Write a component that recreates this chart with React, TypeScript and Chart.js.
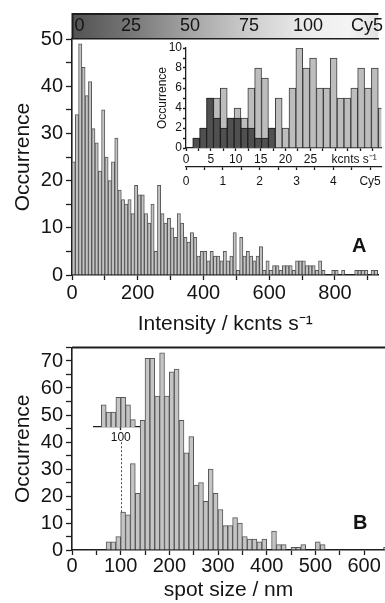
import React, { useEffect, useRef } from 'react';
import { Chart, registerables } from 'chart.js';

Chart.register(...registerables);

const FONT = "'Liberation Sans', Arial, Helvetica, sans-serif";
const INK = '#141414';
const AXIS = '#1e1e1e';
const BAR_FILL = '#c4c4c4';
const BAR_EDGE = '#565656';

// ---------- Panel A: intensity histogram (bins of 10 kcnts/s starting at 0) ----------
const A_BIN_WIDTH = 10;
const A_COUNTS = [
  24, 34, 49, 44, 38, 41, 31, 28, 22, 35,
  25, 20, 24, 29, 18, 16, 15, 16, 13, 19,
  17, 17, 13, 11, 15, 5, 19, 13, 11, 12,
  10, 8, 13, 11, 8, 7, 9, 8, 4, 5,
  5, 3, 5, 4, 4, 3, 5, 3, 4, 9,
  1, 8, 4, 5, 4, 3, 4, 6, 1, 3,
  1, 2, 2, 1, 2, 2, 2, 1, 3, 3,
  3, 2, 2, 2, 1, 3, 1, 0, 0, 1,
  1, 0, 1, 0, 0, 0, 1, 1, 1, 1,
  0, 1, 1,
];
const A_X_MAX = 932;
const A_X_TICKS = [0, 100, 200, 300, 400, 500, 600, 700, 800, 900];
const A_X_LABELS = ['0', '', '200', '', '400', '', '600', '', '800', ''];
const A_Y_MAX = 50;
const A_Y_TICKS = [0, 5, 10, 15, 20, 25, 30, 35, 40, 45, 50];
const A_Y_LABELS = ['0', '', '10', '', '20', '', '30', '', '40', '', '50'];
const A_X_TITLE = 'Intensity / kcnts s\u207B\u00B9';
const Y_TITLE = 'Occurrence';

// colour bar on top of panel A: number of Cy5 molecules
const KCNTS_PER_CY5_MAIN = 7.18;
const A_CY5_TICKS = [0, 25, 50, 75, 100, 125];
const A_CY5_LABELS = ['   0', '25', '50', '75', '100', 'Cy5'];
const BAR_GRADIENT: [number, string][] = [
  [0, '#525252'], [0.19, '#767676'], [0.38, '#a3a3a3'], [0.58, '#cdcdcd'],
  [0.77, '#ececec'], [0.9, '#f4f4f4'], [1, '#e2e2e2'],
];

// inset of panel A
const INSET_BIN_WIDTH = 1.38; // kcnts/s
const INSET_FIRST_BIN = 1;
const INSET_ALL = [1, 2, 5, 5, 6, 3, 4, 3, 6, 8, 7, 2, 5, 2, 6, 10, 8, 9, 6, 6, 9, 5, 5, 6, 8, 6, 8, 4];
const INSET_DARK = [1, 2, 5, 3, 2, 3, 3, 2, 2, 1, 1, 2];
const INSET_X_MAX = 39.25;
const INSET_X_TICKS = [0, 2.5, 5, 7.5, 10, 12.5, 15, 17.5, 20, 22.5, 25, 27.5, 30, 32.5, 35, 37.5];
const INSET_X_LABELS = ['0', '', '5', '', '10', '', '15', '', '20', '', '25', '', '', '', '', ''];
const INSET_UNIT_LABEL = 'kcnts s\u207B\u00B9';
const INSET_UNIT_LABEL_AT = 33.8;
const KCNTS_PER_CY5_INSET = 7.4;
const INSET_CY5_TICKS = [0, 0.5, 1, 1.5, 2, 2.5, 3, 3.5, 4, 4.5, 5];
const INSET_CY5_LABELS = ['0', '', '1', '', '2', '', '3', '', '4', '', 'Cy5'];
const INSET_Y_TICKS = [0, 1, 2, 3, 4, 5, 6, 7, 8, 9, 10];
const INSET_Y_LABELS = ['0', '', '2', '', '4', '', '6', '', '8', '', '10'];

// ---------- Panel B: spot size histogram (bins of 10 nm starting at 70) ----------
const B_BIN_START = 70;
const B_BIN_WIDTH = 10;
const B_COUNTS = [
  3, 3, 5, 14, 13, 32, 21, 48, 71, 71,
  57, 73, 57, 66, 67, 48, 36, 42, 24, 25,
  18, 30, 21, 15, 9, 9, 12, 10, 5, 4,
  4, 3, 4, 0, 7, 2, 2, 0, 1, 1,
  2, 0, 0, 3, 2, 0, 0, 0, 0, 0,
  0, 0, 0, 0, 0, 0, 0, 1,
];
const B_X_MAX = 643;
const B_X_TICKS = [0, 50, 100, 150, 200, 250, 300, 350, 400, 450, 500, 550, 600];
const B_X_LABELS = ['0', '', '100', '', '200', '', '300', '', '400', '', '500', '', '600'];
const B_Y_MAX = 75;
const B_Y_TICKS = [0, 5, 10, 15, 20, 25, 30, 35, 40, 45, 50, 55, 60, 65, 70, 75];
const B_Y_LABELS = ['0', '', '10', '', '20', '', '30', '', '40', '', '50', '', '60', '', '70', ''];
const B_X_TITLE = 'spot size / nm';

// small inset of panel B
const BI_BIN_START = 60;
const BI_BIN_WIDTH = 10;
const BI_COUNTS = [3, 2, 2, 4, 4, 3, 1];
const BI_X_MIN = 45;
const BI_X_MAX = 137.5;
const BI_Y_MAX = 5;
const BI_TICKS = [100];
const BI_LABELS = ['100'];
const B_LINK_X = 100;
const B_LINK_FROM = 14;
const B_LINK_TO = 40;

function labeller(values: number[], labels: string[]) {
  return (v: number) => {
    const i = values.findIndex((x) => Math.abs(x - v) < 1e-6);
    return i >= 0 ? labels[i] : '';
  };
}

function makeAxis(p: any) {
  const horizontal = p.position !== 'left';
  return {
    type: 'linear',
    axis: horizontal ? 'x' : 'y',
    position: p.position,
    min: p.min,
    max: p.max,
    offset: false,
    weight: p.weight ?? 0,
    afterBuildTicks: (s: any) => {
      s.ticks = p.tickValues.map((value: number) => ({ value }));
    },
    afterFit: (s: any) => {
      if (horizontal) s.height = p.size;
      else s.width = p.size;
    },
    grid: {
      display: true,
      offset: false,
      drawOnChartArea: false,
      drawTicks: p.drawTicks ?? true,
      tickLength: p.tickLength ?? 5,
      tickColor: AXIS,
      tickWidth: 1.3,
    },
    border: { display: true, color: AXIS, width: p.borderWidth ?? 1.6 },
    ticks: {
      autoSkip: false,
      maxRotation: 0,
      minRotation: 0,
      includeBounds: false,
      padding: p.padding,
      color: INK,
      font: { family: FONT, size: p.fontSize },
      callback: (v: any) => p.label(Number(v)),
    },
    title: p.title
      ? { display: true, text: p.title, color: INK, font: { family: FONT, size: p.titleSize }, padding: p.titlePad }
      : { display: false },
  };
}

const gradientBar = {
  id: 'gradientBar',
  beforeDraw(chart: any) {
    const s = chart.scales.xTop;
    const ctx = chart.ctx;
    const g = ctx.createLinearGradient(s.left, 0, s.right, 0);
    BAR_GRADIENT.forEach(([o, c]) => g.addColorStop(o, c));
    ctx.save();
    ctx.fillStyle = g;
    ctx.fillRect(s.left, s.top, s.right - s.left, s.bottom - s.top);
    ctx.strokeStyle = AXIS;
    ctx.lineWidth = 2;
    ctx.beginPath();
    ctx.moveTo(s.left, s.top + 1);
    ctx.lineTo(s.right, s.top + 1);
    ctx.moveTo(s.left + 0.5, s.top);
    ctx.lineTo(s.left + 0.5, s.bottom);
    ctx.stroke();
    ctx.restore();
  },
};

const frameTop = {
  id: 'frameTop',
  afterDraw(chart: any) {
    const { ctx, chartArea } = chart;
    ctx.save();
    ctx.strokeStyle = AXIS;
    ctx.lineWidth = 2;
    ctx.beginPath();
    ctx.moveTo(chartArea.left, chartArea.top);
    ctx.lineTo(chartArea.right, chartArea.top);
    ctx.stroke();
    ctx.restore();
  },
};

const linkLine = {
  id: 'linkLine',
  afterDatasetsDraw(chart: any) {
    const { x, y } = chart.scales;
    const ctx = chart.ctx;
    const px = Math.round(x.getPixelForValue(B_LINK_X)) + 0.5;
    ctx.save();
    ctx.setLineDash([2, 2]);
    ctx.strokeStyle = '#4a4a4a';
    ctx.lineWidth = 1;
    ctx.beginPath();
    ctx.moveTo(px, y.getPixelForValue(B_LINK_FROM));
    ctx.lineTo(px, y.getPixelForValue(B_LINK_TO));
    ctx.stroke();
    ctx.restore();
  },
};

const insetUnit = {
  id: 'insetUnit',
  afterDraw(chart: any) {
    const s = chart.scales.x;
    const ctx = chart.ctx;
    ctx.save();
    ctx.font = `12px ${FONT}`;
    ctx.fillStyle = INK;
    ctx.textAlign = 'center';
    ctx.textBaseline = 'middle';
    ctx.fillText(INSET_UNIT_LABEL, s.getPixelForValue(INSET_UNIT_LABEL_AT), s.top + 3 + 1 + 7.2);
    ctx.restore();
  },
};

const baseOptions = (padding: any) => ({
  responsive: false,
  animation: false as const,
  devicePixelRatio: 1,
  layout: { padding, autoPadding: false },
  plugins: { legend: { display: false }, tooltip: { enabled: false } },
});

export default function App() {
  const refA = useRef<HTMLCanvasElement>(null);
  const refAI = useRef<HTMLCanvasElement>(null);
  const refB = useRef<HTMLCanvasElement>(null);
  const refBI = useRef<HTMLCanvasElement>(null);

  useEffect(() => {
    const charts: Chart[] = [];

    // Panel A
    charts.push(
      new Chart(refA.current as HTMLCanvasElement, {
        type: 'bar',
        data: {
          datasets: [
            {
              data: A_COUNTS.map((c, i) => ({ x: (i + 0.5) * A_BIN_WIDTH, y: c })),
              xAxisID: 'x',
              yAxisID: 'y',
              backgroundColor: BAR_FILL,
              borderColor: BAR_EDGE,
              borderWidth: 1,
              barPercentage: 1,
              categoryPercentage: 1,
            },
          ],
        },
        options: {
          ...baseOptions({ top: 13, left: 0, right: 0, bottom: 0 }),
          scales: {
            x: makeAxis({
              position: 'bottom', min: 0, max: A_X_MAX, tickValues: A_X_TICKS,
              label: labeller(A_X_TICKS, A_X_LABELS), fontSize: 20, tickLength: 5, padding: 1, size: 65,
              title: A_X_TITLE, titleSize: 21, titlePad: { top: 0, bottom: 3 },
            }),
            xTop: makeAxis({
              position: 'top', min: 0, max: A_X_MAX / KCNTS_PER_CY5_MAIN, tickValues: A_CY5_TICKS,
              label: labeller(A_CY5_TICKS, A_CY5_LABELS), fontSize: 18, drawTicks: false, padding: 2, size: 26,
            }),
            y: makeAxis({
              position: 'left', min: 0, max: A_Y_MAX, tickValues: A_Y_TICKS,
              label: labeller(A_Y_TICKS, A_Y_LABELS), fontSize: 20, tickLength: 6, padding: 3, size: 72,
              title: Y_TITLE, titleSize: 21, titlePad: { top: 11, bottom: 0 },
            }),
          },
        } as any,
        plugins: [gradientBar],
      })
    );

    // Inset of A
    const insetCenters = INSET_ALL.map((_, i) => (INSET_FIRST_BIN + i + 0.5) * INSET_BIN_WIDTH);
    charts.push(
      new Chart(refAI.current as HTMLCanvasElement, {
        type: 'bar',
        data: {
          datasets: [
            {
              data: INSET_DARK.map((c, i) => ({ x: insetCenters[i], y: c })),
              xAxisID: 'x',
              yAxisID: 'y',
              order: 0,
              grouped: false,
              backgroundColor: '#505050',
              borderColor: '#1e1e1e',
              borderWidth: 1,
              barPercentage: 1,
              categoryPercentage: 1,
            },
            {
              data: INSET_ALL.map((c, i) => ({ x: insetCenters[i], y: c })),
              xAxisID: 'x',
              yAxisID: 'y',
              order: 1,
              grouped: false,
              backgroundColor: '#bdbdbd',
              borderColor: '#3c3c3c',
              borderWidth: 1,
              barPercentage: 1,
              categoryPercentage: 1,
            },
          ],
        },
        options: {
          ...baseOptions({ top: 10, left: 0, right: 0, bottom: 0 }),
          scales: {
            x: makeAxis({
              position: 'bottom', min: 0, max: INSET_X_MAX, tickValues: INSET_X_TICKS, weight: 0,
              label: labeller(INSET_X_TICKS, INSET_X_LABELS), fontSize: 12, tickLength: 3, padding: 1, size: 19,
              borderWidth: 1.3,
            }),
            x2: makeAxis({
              position: 'bottom', min: 0, max: INSET_X_MAX / KCNTS_PER_CY5_INSET, tickValues: INSET_CY5_TICKS, weight: 1,
              label: labeller(INSET_CY5_TICKS, INSET_CY5_LABELS), fontSize: 12, tickLength: 3, padding: 4, size: 22,
              borderWidth: 1.3,
            }),
            y: makeAxis({
              position: 'left', min: 0, max: 10, tickValues: INSET_Y_TICKS,
              label: labeller(INSET_Y_TICKS, INSET_Y_LABELS), fontSize: 12, tickLength: 3, padding: 1, size: 36,
              title: Y_TITLE, titleSize: 12, titlePad: { top: 5.8, bottom: 0 }, borderWidth: 1.3,
            }),
          },
        } as any,
        plugins: [insetUnit],
      })
    );

    // Panel B
    charts.push(
      new Chart(refB.current as HTMLCanvasElement, {
        type: 'bar',
        data: {
          datasets: [
            {
              data: B_COUNTS.map((c, i) => ({ x: B_BIN_START + (i + 0.5) * B_BIN_WIDTH, y: c })),
              xAxisID: 'x',
              yAxisID: 'y',
              backgroundColor: BAR_FILL,
              borderColor: BAR_EDGE,
              borderWidth: 1,
              barPercentage: 1,
              categoryPercentage: 1,
            },
          ],
        },
        options: {
          ...baseOptions({ top: 17.5, left: 0, right: 0, bottom: 0 }),
          scales: {
            x: makeAxis({
              position: 'bottom', min: 0, max: B_X_MAX, tickValues: B_X_TICKS,
              label: labeller(B_X_TICKS, B_X_LABELS), fontSize: 20, tickLength: 5, padding: -1, size: 53,
              title: B_X_TITLE, titleSize: 21, titlePad: { top: 0, bottom: 0 },
            }),
            y: makeAxis({
              position: 'left', min: 0, max: B_Y_MAX, tickValues: B_Y_TICKS,
              label: labeller(B_Y_TICKS, B_Y_LABELS), fontSize: 20, tickLength: 6, padding: 3, size: 72,
              title: Y_TITLE, titleSize: 21, titlePad: { top: 11, bottom: 0 },
            }),
          },
        } as any,
        plugins: [frameTop, linkLine],
      })
    );

    // Inset of B
    charts.push(
      new Chart(refBI.current as HTMLCanvasElement, {
        type: 'bar',
        data: {
          datasets: [
            {
              data: BI_COUNTS.map((c, i) => ({ x: BI_BIN_START + (i + 0.5) * BI_BIN_WIDTH, y: c })),
              xAxisID: 'x',
              yAxisID: 'y',
              backgroundColor: BAR_FILL,
              borderColor: BAR_EDGE,
              borderWidth: 1,
              barPercentage: 1,
              categoryPercentage: 1,
            },
          ],
        },
        options: {
          ...baseOptions({ top: 10, left: 14, right: 11, bottom: 0 }),
          scales: {
            x: makeAxis({
              position: 'bottom', min: BI_X_MIN, max: BI_X_MAX, tickValues: BI_TICKS,
              label: labeller(BI_TICKS, BI_LABELS), fontSize: 12, tickLength: 3, padding: 0, size: 23,
              borderWidth: 1.3,
            }),
            y: { type: 'linear', display: false, min: 0, max: BI_Y_MAX },
          },
        } as any,
      })
    );

    return () => charts.forEach((c) => c.destroy());
  }, []);

  const abs = (left: number, top: number, width: number, height: number): React.CSSProperties => ({
    position: 'absolute', left, top, width, height,
  });
  const panelLabel: React.CSSProperties = {
    position: 'absolute', font: `bold 20px ${FONT}`, lineHeight: '20px', color: INK, margin: 0,
  };

  return (
    <div style={{ position: 'absolute', left: 0, top: 0, width: 385, height: 603, overflow: 'hidden', background: '#fff' }}>
      <canvas ref={refA} width={385} height={340} style={abs(0, 0, 385, 340)} />
      <canvas ref={refAI} width={235} height={151} style={abs(150, 38, 235, 151)} />
      <canvas ref={refB} width={385} height={273} style={abs(0, 330, 385, 273)} />
      <canvas ref={refBI} width={70} height={70} style={abs(80, 380, 70, 70)} />
      <div style={{ ...panelLabel, left: 352, top: 235 }}>A</div>
      <div style={{ ...panelLabel, left: 353, top: 512 }}>B</div>
    </div>
  );
}
